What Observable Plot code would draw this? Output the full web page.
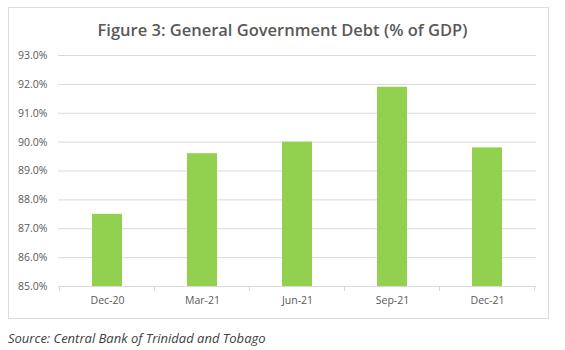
<!DOCTYPE html>
<html>
<head>
<meta charset="utf-8">
<script src="https://cdn.jsdelivr.net/npm/d3@7"></script>
<script src="https://cdn.jsdelivr.net/npm/@observablehq/plot@0.6"></script>
<style>
  body { margin: 0; background: #fff; width: 565px; height: 350px; position: relative; overflow: hidden; font-family: "Open Sans", sans-serif; }
  #box { position: absolute; left: 8px; top: 7px; width: 541px; height: 312px; border: 1px solid #dcdcdc; box-sizing: border-box; }
  #title { position: absolute; left: 0; top: 18px; width: 565px; text-align: center; font-size: 16.5px; font-weight: 600; color: #595959; }
  #chart { position: absolute; left: 0; top: 45px; }
  #source { position: absolute; left: 8px; top: 329px; font-size: 13px; font-style: italic; color: #404040; }
</style>
</head>
<body>
<div id="box"></div>
<div id="title">Figure 3: General Government Debt (% of GDP)</div>
<div id="chart"></div>
<div id="source">Source: Central Bank of Trinidad and Tobago</div>
<script>
const categories = ["Dec-20", "Mar-21", "Jun-21", "Sep-21", "Dec-21"];
const debtPct = [87.5, 89.6, 90.0, 91.9, 89.8];
const yTicks = [85, 86, 87, 88, 89, 90, 91, 92, 93];

const data = categories.map((c, i) => ({period: c, value: debtPct[i]}));

// small tick marks at the category band boundaries on the x axis
function bandBoundaryTicks(index, scales, values, dimensions) {
  const x = scales.x;
  const step = x.step ? x.step() : 0;
  const bw = x.bandwidth ? x.bandwidth() : 0;
  const off = (step - bw) / 2;
  const xs = categories.map(c => x(c) - off);
  xs.push(x(categories[categories.length - 1]) + bw + off);
  const y0 = dimensions.height - dimensions.marginBottom;
  const g = d3.create("svg:g");
  g.selectAll("line").data(xs).join("line")
    .attr("x1", d => d).attr("x2", d => d)
    .attr("y1", y0).attr("y2", y0 + 5)
    .attr("stroke", "#d9d9d9");
  return g.node();
}

const plot = Plot.plot({
  width: 565,
  height: 275,
  marginTop: 10,
  marginBottom: 34,
  marginLeft: 58,
  marginRight: 29,
  style: { fontFamily: "'Open Sans', sans-serif", fontSize: "10.5px", color: "#595959", background: "transparent" },
  x: { domain: categories, paddingInner: 0.68, paddingOuter: 0.34, label: null },
  y: { domain: [85, 93], label: null },
  marks: [
    Plot.gridY(yTicks, { stroke: "#d9d9d9", strokeOpacity: 1 }),
    Plot.axisY(yTicks, { tickSize: 0, tickPadding: 11, tickFormat: d => d.toFixed(1) + "%", fill: "#595959", label: null }),
    Plot.axisX({ tickSize: 0, tickPadding: 10, fill: "#595959", label: null }),
    Plot.barY(data, { x: "period", y1: 85, y2: "value", fill: "#92D050" }),
    Plot.ruleY([85], { stroke: "#d9d9d9" }),
    bandBoundaryTicks
  ]
});
document.getElementById("chart").appendChild(plot);
</script>
</body>
</html>
